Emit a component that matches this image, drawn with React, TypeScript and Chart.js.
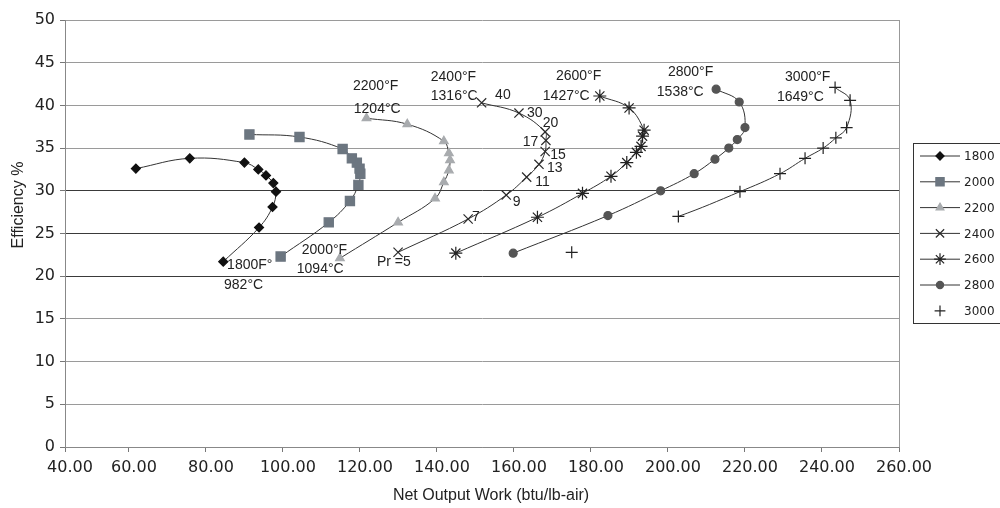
import React, { useEffect, useRef } from 'react';
import { Chart, registerables } from 'chart.js';
import { drawPoint } from 'chart.js/helpers';

Chart.register(...registerables);

// ---------- data ----------
const seriesNames = ['1800', '2000', '2200', '2400', '2600', '2800', '3000'];

const x1800 = [84.5, 93.8, 97.3, 98.2, 97.5, 95.6, 93.6, 90.0, 75.8, 61.8];
const y1800 = [21.7, 25.7, 28.1, 29.9, 30.9, 31.8, 32.5, 33.3, 33.8, 32.6];

const x2000 = [99.4, 111.9, 117.4, 119.6, 120.1, 119.9, 119.2, 117.9, 115.5, 104.3, 91.3];
const y2000 = [22.3, 26.3, 28.8, 30.7, 32.0, 32.6, 33.3, 33.8, 34.9, 36.3, 36.6];

const x2200 = [114.8, 129.9, 139.5, 141.8, 143.1, 143.4, 143.1, 141.8, 132.3, 121.7];
const y2200 = [22.1, 26.3, 29.1, 31.0, 32.4, 33.6, 34.4, 35.8, 37.8, 38.5];

const x2400 = [129.9, 148.1, 158.0, 163.3, 166.5, 168.1, 168.3, 168.1, 161.3, 151.6];
const y2400 = [22.8, 26.7, 29.5, 31.6, 33.1, 34.6, 35.9, 36.9, 39.1, 40.3];

const x2600 = [144.9, 166.1, 177.8, 185.2, 189.3, 191.8, 193.0, 193.4, 193.8, 189.9, 182.3];
const y2600 = [22.7, 26.9, 29.7, 31.7, 33.3, 34.5, 35.2, 36.4, 37.1, 39.7, 41.1];

const x2800 = [159.8, 184.4, 198.1, 206.8, 212.2, 215.8, 218.0, 220.0, 218.5, 212.5];
const y2800 = [22.7, 27.1, 30.0, 32.0, 33.7, 35.0, 36.0, 37.4, 40.4, 41.9];

const x3000 = [175.0, 202.7, 218.7, 229.1, 235.6, 240.3, 243.6, 246.4, 247.3, 243.4];
const y3000 = [22.8, 27.0, 29.9, 32.0, 33.8, 35.0, 36.2, 37.4, 40.6, 42.1];

const seriesX = [x1800, x2000, x2200, x2400, x2600, x2800, x3000];
const seriesY = [y1800, y2000, y2200, y2400, y2600, y2800, y3000];

// x axis: the axis begins a little after 40 but its first label reads 40.00
const xTickValues = [43.4, 60, 80, 100, 120, 140, 160, 180, 200, 220, 240, 260];
const xTickLabels = ['40.00', '60.00', '80.00', '100.00', '120.00', '140.00', '160.00', '180.00', '200.00', '220.00', '240.00', '260.00'];
const yMin = 0;
const yMax = 50;
const yStep = 5;

const xTitle = 'Net Output Work (btu/lb-air)';
const yTitle = 'Efficiency %';

// text annotations in data coordinates
const annotationTexts = ['1800F°', '982°C', '2000°F', '1094°C', '2200°F', '1204°C', '2400°F', '1316°C', '40', '30', '20', '17', '15', '13', '11', '9', '7', 'Pr =5', '2600°F', '1427°C', '2800°F', '1538°C', '3000°F', '1649°C'];
const annotationX = [85.5, 84.7, 104.9, 103.6, 118.2, 118.4, 138.4, 138.4, 155.1, 163.4, 167.5, 162.3, 169.4, 168.6, 165.5, 159.7, 149.1, 124.4, 170.9, 167.5, 200.0, 197.1, 230.4, 228.3];
const annotationY = [21.3, 19.0, 23.1, 20.8, 42.2, 39.6, 43.3, 41.1, 41.2, 39.1, 37.9, 35.7, 34.2, 32.7, 31.0, 28.7, 26.9, 21.7, 43.4, 41.1, 43.9, 41.6, 43.3, 41.0];

// ---------- styles ----------
const pointStyles = ['rectRot', 'rect', 'triangle', 'crossRot', 'star', 'circle', 'cross'];
const pointRadii = [4.5, 6.5, 5, 6.5, 6.5, 4, 6];
const pointColors = ['#111111', '#6c7680', '#a8abae', '#2a2a2a', '#222222', '#555555', '#222222'];
const legendShowLine = [true, true, true, true, true, true, false];
const LINE_COLOR = '#333333';
const TICK_FONT = { family: '"DejaVu Sans", sans-serif', size: 16 };

const overlayPlugin = {
  id: 'overlay',
  afterDraw(chart: any) {
    const { ctx, scales } = chart;
    const xs = scales.x;
    const ys = scales.y;
    ctx.save();
    ctx.fillStyle = '#222';
    ctx.textBaseline = 'middle';
    ctx.textAlign = 'left';
    ctx.font = '14px "Liberation Sans", Arial, sans-serif';
    annotationTexts.forEach((t, i) => {
      ctx.fillText(t, xs.getPixelForValue(annotationX[i]), ys.getPixelForValue(annotationY[i]));
    });

    // axis titles
    ctx.font = '16px "Liberation Sans", Arial, sans-serif';
    ctx.textAlign = 'center';
    ctx.fillText(xTitle, 491, 496);
    ctx.save();
    ctx.translate(19, 205);
    ctx.rotate(-Math.PI / 2);
    ctx.fillText(yTitle, 0, 0);
    ctx.restore();

    // legend
    ctx.strokeStyle = '#333';
    ctx.lineWidth = 1;
    ctx.strokeRect(913.5, 143.5, 100, 180);
    ctx.font = '12px "DejaVu Sans", sans-serif';
    ctx.textAlign = 'left';
    seriesNames.forEach((name, i) => {
      const cy = 156 + i * 25.8;
      if (legendShowLine[i]) {
        ctx.strokeStyle = LINE_COLOR;
        ctx.lineWidth = 1;
        ctx.beginPath();
        ctx.moveTo(920, cy);
        ctx.lineTo(960, cy);
        ctx.stroke();
      }
      ctx.fillStyle = pointColors[i];
      ctx.strokeStyle = pointColors[i];
      ctx.lineWidth = 1.2;
      drawPoint(ctx, { pointStyle: pointStyles[i], radius: pointRadii[i] * 0.9, rotation: 0, borderWidth: 1.2 }, 940, cy);
      ctx.fillStyle = '#222';
      ctx.fillText(name, 964, cy + 1);
    });
    ctx.restore();
  },
};

export default function App() {
  const canvasRef = useRef<HTMLCanvasElement | null>(null);

  useEffect(() => {
    const canvas = canvasRef.current;
    if (!canvas) return;
    const datasets = seriesNames.map((name, i) => ({
      label: name,
      data: seriesX[i].map((xv, j) => ({ x: xv, y: seriesY[i][j] })),
      showLine: true,
      borderColor: LINE_COLOR,
      borderWidth: 1,
      tension: 0.4,
      pointStyle: pointStyles[i],
      pointRadius: pointRadii[i],
      pointBackgroundColor: pointColors[i],
      pointBorderColor: pointColors[i],
      pointBorderWidth: 1.2,
      segment: name === '3000'
        ? { borderColor: (c: any) => (c.p0DataIndex === 0 ? 'rgba(0,0,0,0)' : LINE_COLOR) }
        : undefined,
    }));

    const chart = new Chart(canvas, {
      type: 'scatter',
      data: { datasets },
      options: {
        responsive: false,
        animation: false,
        devicePixelRatio: 1,
        layout: { padding: { left: 0, top: 20, right: 101, bottom: 0 } },
        plugins: { legend: { display: false }, tooltip: { enabled: false } },
        scales: {
          x: {
            type: 'linear',
            min: xTickValues[0],
            max: xTickValues[xTickValues.length - 1],
            afterBuildTicks: (scale: any) => {
              scale.ticks = xTickValues.map((v) => ({ value: v }));
            },
            afterFit: (scale: any) => {
              scale.height = 61;
            },
            ticks: {
              autoSkip: false,
              maxRotation: 0,
              minRotation: 0,
              padding: 6,
              labelOffset: 5,
              color: '#222',
              font: TICK_FONT,
              callback: (_v: any, idx: number) => xTickLabels[idx],
            },
            grid: {
              drawOnChartArea: true,
              drawTicks: true,
              tickLength: 5,
              tickColor: '#777',
              color: (c: any) => (c.tick && c.tick.value === xTickValues[xTickValues.length - 1] ? '#999' : 'rgba(0,0,0,0)'),
            },
            border: { display: true, color: '#888', width: 1 },
          },
          y: {
            type: 'linear',
            min: yMin,
            max: yMax,
            afterFit: (scale: any) => {
              scale.width = 65;
            },
            ticks: {
              stepSize: yStep,
              padding: 5,
              color: '#222',
              font: TICK_FONT,
            },
            grid: {
              drawTicks: true,
              tickLength: 5,
              tickColor: '#777',
              color: (c: any) => {
                const v = c.tick ? c.tick.value : -1;
                return v === 20 || v === 25 || v === 30 ? '#3a3a3a' : '#9a9a9a';
              },
            },
            border: { display: true, color: '#888', width: 1 },
          },
        },
      },
      plugins: [overlayPlugin],
    } as any);

    return () => chart.destroy();
  }, []);

  return (
    <div style={{ position: 'fixed', left: 0, top: 0, width: 1000, height: 508, background: '#ffffff' }}>
      <canvas ref={canvasRef} width={1000} height={508} style={{ display: 'block', width: 1000, height: 508 }} />
    </div>
  );
}
